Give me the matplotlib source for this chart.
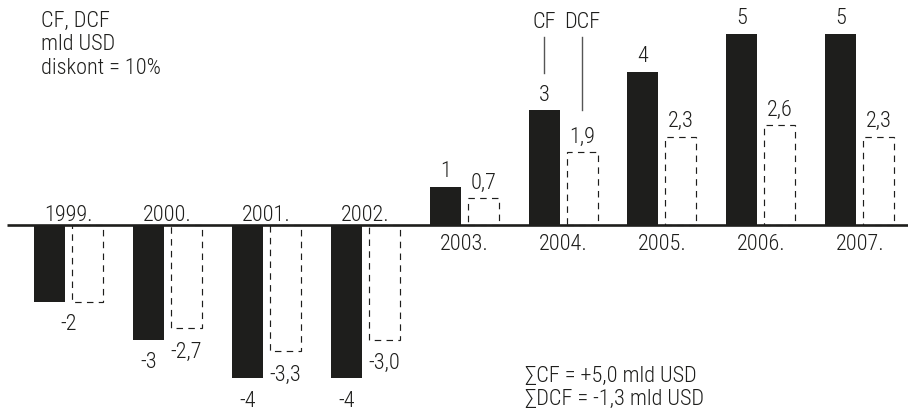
import matplotlib
matplotlib.use("Agg")
import matplotlib.pyplot as plt

years = ["1999.", "2000.", "2001.", "2002.", "2003.", "2004.", "2005.", "2006.", "2007."]
cf = [-2, -3, -4, -4, 1, 3, 4, 5, 5]
dcf = [-2.0, -2.7, -3.3, -3.0, 0.7, 1.9, 2.3, 2.6, 2.3]
cf_labels = ["-2", "-3", "-4", "-4", "1", "3", "4", "5", "5"]
dcf_labels = ["", "-2,7", "-3,3", "-3,0", "0,7", "1,9", "2,3", "2,6", "2,3"]
header = ["CF, DCF", "mld USD", "diskont = 10%"]
sums = ["\u2211CF = +5,0 mld USD", "\u2211DCF = -1,3 mld USD"]

plt.rcParams['font.family'] = ['Roboto Condensed', 'DejaVu Sans']
plt.rcParams['font.weight'] = 300
FS = 16
INK = "#1e1e1c"

fig = plt.figure(figsize=(9.08, 4.11), dpi=100)
ax = fig.add_axes([0, 0, 1, 1])
ax.set_axis_off()
ax.set_xlim(-0.693, 8.488)
ax.set_ylim(-4.856, 5.875)

x = list(range(len(years)))
off = 0.192
w = 0.313
xb = [i - off for i in x]
xd = [i + off for i in x]

ax.bar(xb, cf, width=w, color=INK, edgecolor='none', zorder=2)
ax.bar(xd, dcf, width=w, facecolor='white', edgecolor=INK, linewidth=0.85,
       linestyle=(0, (5.5, 4.5)), zorder=2)

ax.plot([-0.62, 8.488], [0, 0], color=INK, lw=1.9, zorder=3, solid_capstyle='butt')

for i in x:
    v = cf[i]
    lx = i if dcf_labels[i] == "" else xb[i]
    dy = 9.5 if v >= 0 else -28.5
    ax.annotate(cf_labels[i], (lx, v), xytext=(0, dy), textcoords='offset pixels',
                ha='center', va='baseline', fontsize=FS, color=INK)
    if dcf_labels[i]:
        d = dcf[i]
        dy = 9.5 if d >= 0 else -29.5
        ax.annotate(dcf_labels[i], (xd[i], d), xytext=(0, dy), textcoords='offset pixels',
                    ha='center', va='baseline', fontsize=FS, color=INK)
    dy = 4.5 if v < 0 else -25
    ax.annotate(years[i], (i, 0), xytext=(0, dy), textcoords='offset pixels',
                ha='center', va='baseline', fontsize=FS, color=INK)

# CF / DCF callout above 2004
k = 5
top = 5.875
ax.text(xb[k], top - 28 / 38.3, "CF", ha='center', va='baseline', fontsize=FS, color=INK)
ax.text(xd[k], top - 28 / 38.3, "DCF", ha='center', va='baseline', fontsize=FS, color=INK)
ax.plot([xb[k], xb[k]], [top - 37 / 38.3, top - 73 / 38.3], color="#555555", lw=1.0)
ax.plot([xd[k], xd[k]], [top - 37 / 38.3, top - 110 / 38.3], color="#555555", lw=1.0)

# header text (top-left)
for j, line in enumerate(header):
    fig.text(41 / 908, 1 - (26.5 + 23.5 * j) / 411, line, ha='left', va='baseline',
             fontsize=FS, color=INK)

# sums (bottom)
for j, line in enumerate(sums):
    fig.text(525 / 908, 1 - (382 + 23 * j) / 411, line, ha='left', va='baseline',
             fontsize=FS, color=INK)

fig.savefig("out.png", dpi=100)
